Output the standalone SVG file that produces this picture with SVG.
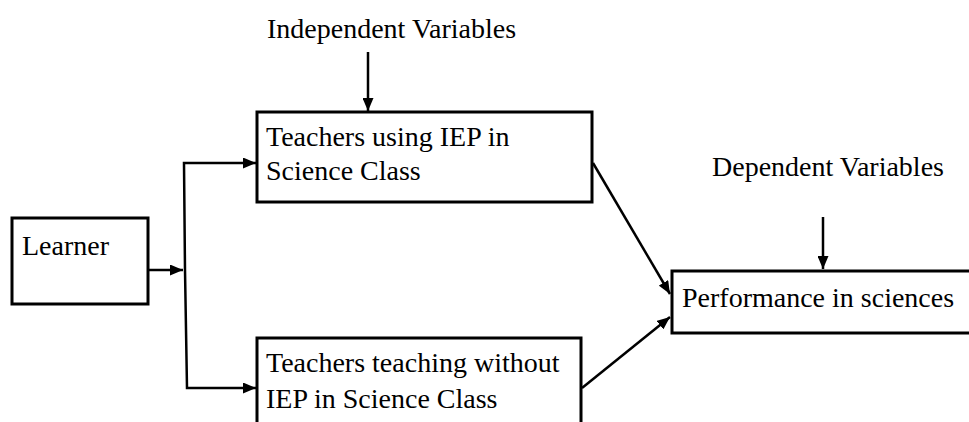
<svg xmlns="http://www.w3.org/2000/svg" width="969" height="422" viewBox="0 0 969 422">
<style>
.box{fill:#fff;stroke:#000;stroke-width:3}
.t{font-family:"Liberation Serif","Times New Roman",serif;font-size:28px;fill:#000}
.c{fill:none;stroke:#000;stroke-width:2.5}
</style>
<defs>
<marker id="ah" viewBox="0 0 13 11" refX="13" refY="5.5" markerWidth="13" markerHeight="11" markerUnits="userSpaceOnUse" orient="auto">
<path d="M0,0 L13,5.5 L0,11 z" fill="#000"/>
</marker>
</defs>
<rect width="969" height="422" fill="#fff"/>
<g id="independent-label"><text class="t" x="267" y="38">Independent Variables</text></g>
<g id="dependent-label"><text class="t" x="712" y="176">Dependent Variables</text></g>
<g id="learner">
<rect class="box" x="12" y="218" width="136" height="86"/>
<text class="t" x="22" y="255">Learner</text>
</g>
<g id="iep">
<rect class="box" x="257" y="112" width="335" height="90"/>
<text class="t" x="266" y="146">Teachers using IEP in</text>
<text class="t" x="266" y="180">Science Class</text>
</g>
<g id="no-iep">
<rect class="box" x="257" y="338" width="324" height="100"/>
<text class="t" x="266" y="372">Teachers teaching without</text>
<text class="t" x="266" y="408">IEP in Science Class</text>
</g>
<g id="performance">
<rect class="box" x="672" y="271" width="310" height="62"/>
<text class="t" x="682" y="307">Performance in sciences</text>
</g>
<g id="connectors">
<line class="c" x1="368" y1="52" x2="368" y2="111" marker-end="url(#ah)"/>
<line class="c" x1="823" y1="217" x2="823" y2="269" marker-end="url(#ah)"/>
<line class="c" x1="148" y1="270" x2="183" y2="270" marker-end="url(#ah)"/>
<polyline class="c" points="185,270 184,163 256,163" marker-end="url(#ah)"/>
<polyline class="c" points="185,270 187,388 256,388" marker-end="url(#ah)"/>
<line class="c" x1="593" y1="163" x2="670" y2="294" marker-end="url(#ah)"/>
<line class="c" x1="582" y1="388" x2="670" y2="317" marker-end="url(#ah)"/>
</g>
</svg>
